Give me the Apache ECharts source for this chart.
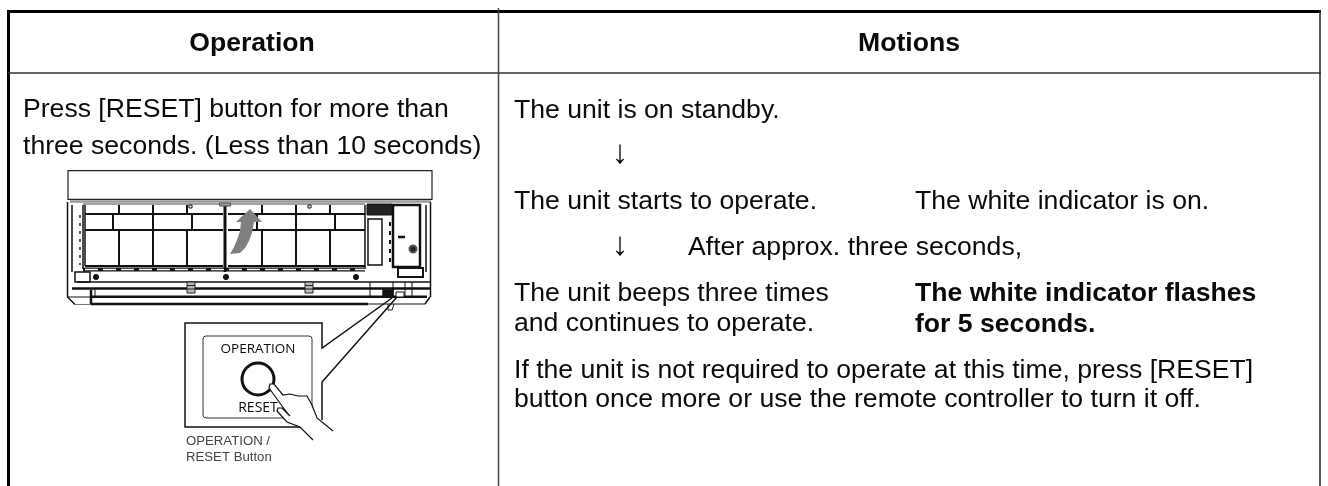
<!DOCTYPE html>
<html><head><meta charset="utf-8">
<style>html,body{margin:0;padding:0;background:#fff}#c{width:1328px;height:486px}</style>
<script src="https://cdn.jsdelivr.net/npm/echarts@6/dist/echarts.min.js"></script>
</head><body><div id="c"></div>
<script>
const headers = ['Operation', 'Motions'];
const operationLines = ['Press [RESET] button for more than', 'three seconds. (Less than 10 seconds)'];
const motionStandby = 'The unit is on standby.';
const motionStart = 'The unit starts to operate.';
const motionWhiteOn = 'The white indicator is on.';
const motionDelay = 'After approx. three seconds,';
const motionBeep = ['The unit beeps three times', 'and continues to operate.'];
const motionFlash = ['The white indicator flashes', 'for 5 seconds.'];
const motionNote = ['If the unit is not required to operate at this time, press [RESET]', 'button once more or use the remote controller to turn it off.'];
const buttonCaption = ['OPERATION /', 'RESET Button'];
const panelTop = 'OPERATION', panelBottom = 'RESET', arrowGlyph = '\u2193';

const FS = 26.6, F = '"Liberation Sans", Arial, sans-serif';
const els = [];
const txt = (s, x, y, o = {}) => els.push({type:'text', z:o.z||20, style:{text:s, x, y, fill:o.fill||'#0a0a0a', font:`${o.bold?'bold ':''}${o.size||FS}px ${o.font||F}`, textAlign:o.align||'left', textVerticalAlign:'middle'}});
const line = (x1,y1,x2,y2,w=1.5,c='#111',z=5,dash) => els.push({type:'line', z, shape:{x1,y1,x2,y2}, style:{stroke:c, lineWidth:w, lineDash:dash||null}});
const rect = (x,y,width,height,w=1.5,fill='#fff',c='#111',z=5,r=0) => els.push({type:'rect', z, shape:{x,y,width,height,r}, style:{stroke:c, fill, lineWidth:w}});
const poly = (points,w=1.5,c='#111',z=5,fill) => els.push({type: fill?'polygon':'polyline', z, shape:{points}, style:{stroke:c, lineWidth:w, fill: fill||null}});
const dot = (cx,cy,r,fill='#111',stroke='#111',w=1,z=6) => els.push({type:'circle', z, shape:{cx,cy,r}, style:{fill, stroke, lineWidth:w}});

// table frame
line(8.5,10,8.5,486,3,'#000');
line(7,11.5,1321,11.5,3,'#000');
line(1320,10,1320,486,1.5,'#222');
line(8,73,1321,73,1.5,'#333');
line(498.5,8,498.5,486,1.5,'#444');

// table text
txt(headers[0], 252, 44, {bold:true, align:'center'});
txt(headers[1], 909, 44, {bold:true, align:'center'});
operationLines.forEach((s,i)=>txt(s, 23, 110+i*36.7));
txt(motionStandby, 514, 110.5);
txt(arrowGlyph, 620, 154, {align:'center', size:33});
txt(motionStart, 514, 201.5);
txt(motionWhiteOn, 915, 201.5);
txt(arrowGlyph, 620, 246, {align:'center', size:33});
txt(motionDelay, 688, 248);
motionBeep.forEach((s,i)=>txt(s, 514, 293.3+i*30.7));
motionFlash.forEach((s,i)=>txt(s, 915, 293.3+i*31, {bold:true}));
motionNote.forEach((s,i)=>txt(s, 514, 370.5+i*29.4));

// unit: top panel and body
rect(68,170.7,364,28.6,1.2,'#fff','#222');
line(70,201.5,431,201.5,2.5,'#999');
line(67.5,202,67.5,297,1.5);
line(430.5,202,430.5,297,1.5);
line(72,205,72,272,1.5);
line(426,205,426,272,1.5);
line(80,215,80,265,1.5,'#222',5,[3,5]);
line(390,222,390,265,2,'#111',5,[4,5]);
// filter: thick row lines and cell dividers
line(83,204,365,204,1,'#444');
[[214,2],[230,2.2],[266,2.2]].forEach(([y,w])=>{line(85,y,223,y,w);line(228,y,365,y,w);});
[[119,153,187],[262,296,330]].flat().forEach(x=>{line(x,205,x,214,2);line(x,230,x,266,2);});
[[113,153,192],[257,296,335]].flat().forEach(x=>line(x,214,x,230,2));
line(85,205,85,266,1.5);
line(365,205,365,269,1.5);
line(83,205,83,269,1.5);
line(225,205,225,272,3);
rect(219.5,203,11,3,1,'#999','#555',6);
rect(189,205,3,3,1);rect(308,205,3,3,1);
// filter foot band with white dashes
line(83,269.5,365,269.5,4,'#111');
line(85,269.5,365,269.5,1.5,'#fff',6,[13,5]);
// right-hand compartment
rect(368,219,14,46,1.5);
rect(393,205,27,62,2.5);
rect(367,204,25,11,1,'#222','#111');
line(398,237,405,237,2.5);
dot(413,249,3.5,'#222','#555',2);
rect(398,268,25,9,2);
rect(75,272,15,10,1.5);
// rails
[96,226,356].forEach(x=>dot(x,277,2.6));
line(77,282,430,282,1.5);
line(72,288.5,430,288.5,2.5);
line(91,296.7,427,296.7,2.5);
line(91,304,368,304,2.5);
line(368,304,425,304,1.2);
line(91,290,91,304,2.5);
line(95,288,95,297,1);
line(67.5,297,75,304.5,1.5);
line(75,304.5,91,304.5,1,'#777');
line(430,297,425,304,1.5);
line(67,297,91,297,1);
[187,305].forEach(x=>{rect(x,282,8,11,1,'#bbb','#222',6);line(x,285.5,x+8,285.5,1,'#222',7);line(x,289,x+8,289,1,'#222',7);});
rect(383,290,10,7,1.5,'#111');
rect(396,292,8,5,1,'#fff');
[370,393,405,412].forEach(x=>line(x,282,x,296,1));
poly([[388,304],[388,310],[392,310],[394,304]],1,'#222',6);
// grey arrow
poly([[250,209],[262,222],[254,222],[252,233],[249,241],[245,248],[240,253],[230,254],[234,247],[237,240],[240,231],[241,222],[236,222]],0,'#808080',8,'#808080');

// inset panel with leader lines
poly([[300,427],[185,427],[185,323],[322,323],[322,348],[392,298]],1.5,'#111',9);
poly([[397,297],[322,382],[322,420]],1.5,'#111',9);
rect(203,336,109,82,1,'#fff','#333',9,3);
txt(panelTop, 258, 349, {font:'"Open Sans"', size:13.5, align:'center'});
dot(258,379,16,'#fff','#111',3,10);
txt(panelBottom, 258, 408, {font:'"Open Sans"', size:14, align:'center'});
// hand
poly([[271,384],[274,384],[283,395],[290,394],[298,396],[307,396],[317,418],[333,431],[313,440],[300,427],[287,422],[278,413],[277,409],[282,407],[269,388]],0,'#fff',11,'#fff');
poly([[269,388],[270,384],[274,384],[283,395],[290,394],[298,396],[307,396],[312,405],[317,418],[333,431]],1.2,'#111',12);
poly([[269,388],[282,406],[288,414]],1.2,'#111',12);
poly([[282,408],[278,408],[277,411],[287,422],[300,427],[313,440]],1.2,'#111',12);
poly([[282,408],[290,416]],1.2,'#111',12);

buttonCaption.forEach((s,i)=>txt(s, 186, 441+i*16, {size:13.2, fill:'#444'}));

echarts.init(document.getElementById('c'),null,{renderer:'canvas'}).setOption({animation:false,backgroundColor:'#fff',graphic:{elements:els}});
</script></body></html>
